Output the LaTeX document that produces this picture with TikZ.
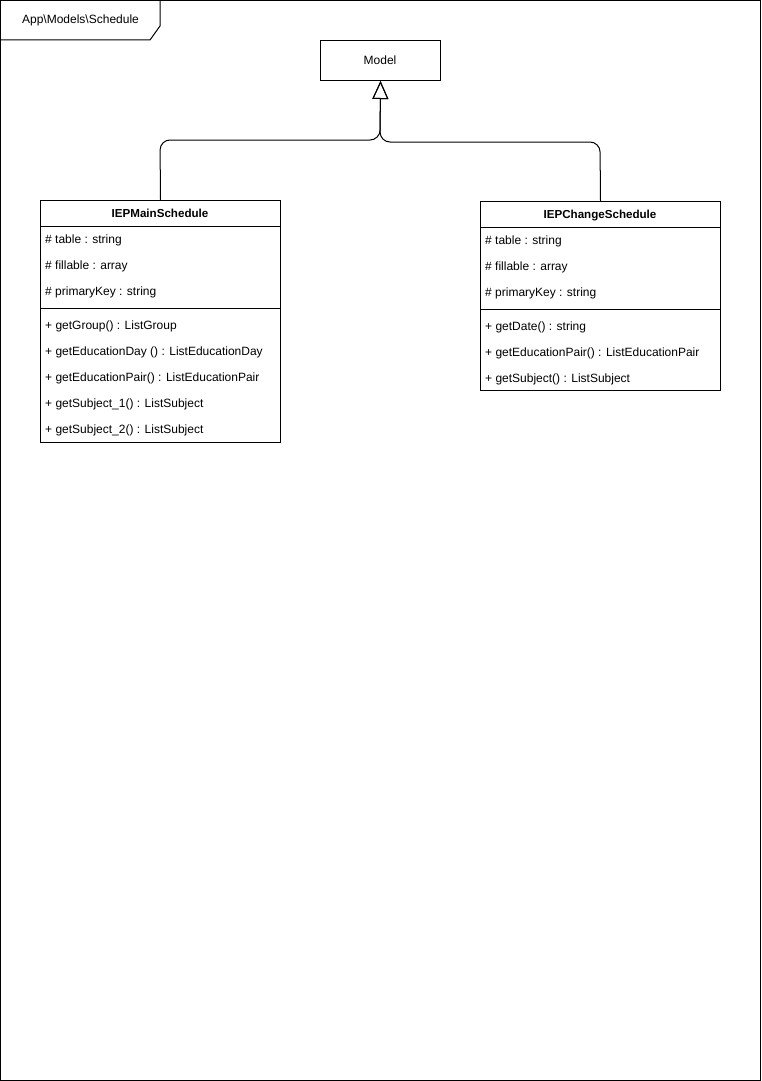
\documentclass[tikz,border=0pt]{standalone}
\usepackage{fontspec}
\setmainfont{Liberation Sans}
\usetikzlibrary{arrows.meta}
\begin{document}
\begin{tikzpicture}[x=1pt,y=-1pt,
  every node/.style={font=\fontsize{12}{14}\selectfont},
  ln/.style={line width=1pt},
  box/.style={draw, line width=1pt, inner sep=0, anchor=north west},
  attr/.style={anchor=base west, inner sep=0},
  title/.style={anchor=base, inner sep=0, font=\fontsize{11.6}{14}\selectfont\bfseries},
  inherit/.style={line width=1pt, rounded corners=10pt, -{Triangle[open, length=18pt, width=16pt, line width=1pt]}}
]
\useasboundingbox (0,0) rectangle (762,1081);
% frame
\draw[ln] (0.5,0.5) rectangle (760.5,1080);
\draw[ln] (0.5,40) -- (150,40) -- (160,26) -- (160,0.5);
\node[inner sep=0, anchor=base] (pkg) at (80.5,24) {App\textbackslash Models\textbackslash Schedule};

% Model
\node[box, minimum width=120, minimum height=40] (model) at (320,40) {};
\node[inner sep=0, anchor=base] (modeltxt) at (380,64.3) {Model};

% IEPMainSchedule
\node[box, minimum width=240, minimum height=242] (main) at (40,200) {};
\draw[ln] (40,226) -- (280,226);
\draw[ln] (40,308) -- (280,308);
\node[title] (mainT) at (160,217.5) {IEPMainSchedule};
\node[attr] (m1) at (45,243.3) {\# table : string};
\node[attr] (m2) at (45,269.3) {\# fillable : array};
\node[attr] (m3) at (45,295.3) {\# primaryKey : string};
\node[attr] (m4) at (45,329.3) {+ getGroup() : ListGroup};
\node[attr] (m5) at (45,355.3) {+ getEducationDay () : ListEducationDay};
\node[attr] (m6) at (45,381.3) {+ getEducationPair() : ListEducationPair};
\node[attr] (m7) at (45,407.3) {+ getSubject\_1() : ListSubject};
\node[attr] (m8) at (45,433.3) {+ getSubject\_2() : ListSubject};

% IEPChangeSchedule
\node[box, minimum width=240, minimum height=189] (chg) at (480,201) {};
\draw[ln] (480,227) -- (720,227);
\draw[ln] (480,309) -- (720,309);
\node[title] (chgT) at (600,218.5) {IEPChangeSchedule};
\node[attr] (c1) at (485,244.3) {\# table : string};
\node[attr] (c2) at (485,270.3) {\# fillable : array};
\node[attr] (c3) at (485,296.3) {\# primaryKey : string};
\node[attr] (c4) at (485,330.3) {+ getDate() : string};
\node[attr] (c5) at (485,356.3) {+ getEducationPair() : ListEducationPair};
\node[attr] (c6) at (485,382.3) {+ getSubject() : ListSubject};

% inheritance
\draw[inherit] (main.north) -- (160,140) -- (380,140) -- (model.south);
\draw[inherit] (chg.north) -- (600,142) -- (380,142) -- (model.south);
\end{tikzpicture}
\end{document}
